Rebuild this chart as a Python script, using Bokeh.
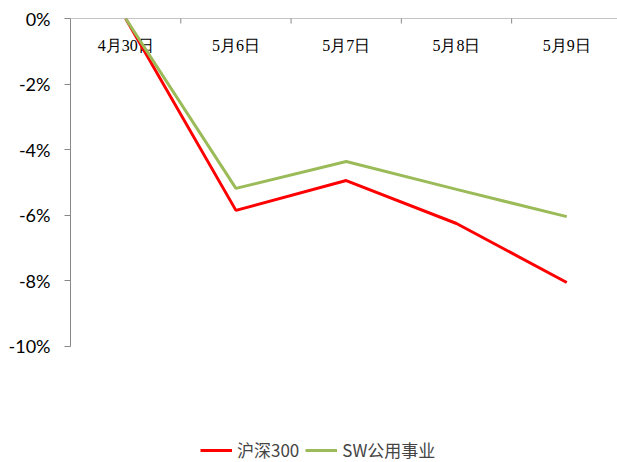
import math
from bokeh.plotting import figure
from bokeh.models import Range1d, FixedTicker, NumeralTickFormatter, Legend, LegendItem, Span
from bokeh.embed import file_html
from bokeh.resources import INLINE

categories = ["4月30日", "5月6日", "5月7日", "5月8日", "5月9日"]
hs300 = [0.0, -0.0585, -0.0494, -0.0625, -0.0805]
sw_utilities = [0.0, -0.0518, -0.0436, -0.0521, -0.0604]
y_ticks = [0.0, -0.02, -0.04, -0.06, -0.08, -0.10]

xs = list(range(len(categories)))
boundaries = [i + 0.5 for i in xs]

# frame spans to the bottom of the canvas so that the legend sits inside it;
# the value axis itself is bounded to 0 .. -10%
p = figure(width=617, height=462, output_backend="svg", toolbar_location=None,
           x_range=Range1d(-0.5, 4.46), y_range=Range1d(-0.13537, 0.0),
           min_border_left=70, min_border_top=18, min_border_bottom=0, min_border_right=0)
p.outline_line_color = None
p.grid.visible = False
p.xaxis.visible = False

axis_color = "#898989"

# category axis drawn at y = 0 (top of the frame)
p.add_layout(Span(location=0, dimension="width", line_color=axis_color, line_width=1))
p.scatter(boundaries, [0] * len(boundaries), marker="dash", angle=math.pi / 2, size=10,
          line_color=axis_color, line_width=1)
p.text(xs, [0] * len(xs), text=categories, y_offset=27, text_align="center",
       text_baseline="middle", text_font="Noto Sans CJK SC", text_font_size="16px",
       text_color="#000000")

ya = p.yaxis[0]
ya.bounds = (-0.10, 0.0)
ya.ticker = FixedTicker(ticks=y_ticks)
ya.formatter = NumeralTickFormatter(format="0%")
ya.axis_line_color = axis_color
ya.major_tick_line_color = axis_color
ya.major_tick_out = 6
ya.major_tick_in = 0
ya.minor_tick_out = 0
ya.minor_tick_in = 0
ya.major_label_standoff = 14
ya.major_label_text_font = "Lato"
ya.major_label_text_font_size = "18px"
ya.major_label_text_color = "#000000"

r1 = p.line(xs, hs300, line_color="#FF0000", line_width=3)
r2 = p.line(xs, sw_utilities, line_color="#9BBB59", line_width=3)

legend = Legend(items=[LegendItem(label="沪深300", renderers=[r1]),
                       LegendItem(label="SW公用事业", renderers=[r2])],
                orientation="horizontal", location=(130, 0),
                label_text_font="Noto Sans CJK SC", label_text_font_size="17px",
                glyph_width=32, glyph_height=18, label_height=18,
                label_standoff=5, spacing=6,
                border_line_color=None, background_fill_alpha=0,
                margin=0, padding=0)
p.add_layout(legend, "center")

open("out.html", "w").write(file_html(p, INLINE))
